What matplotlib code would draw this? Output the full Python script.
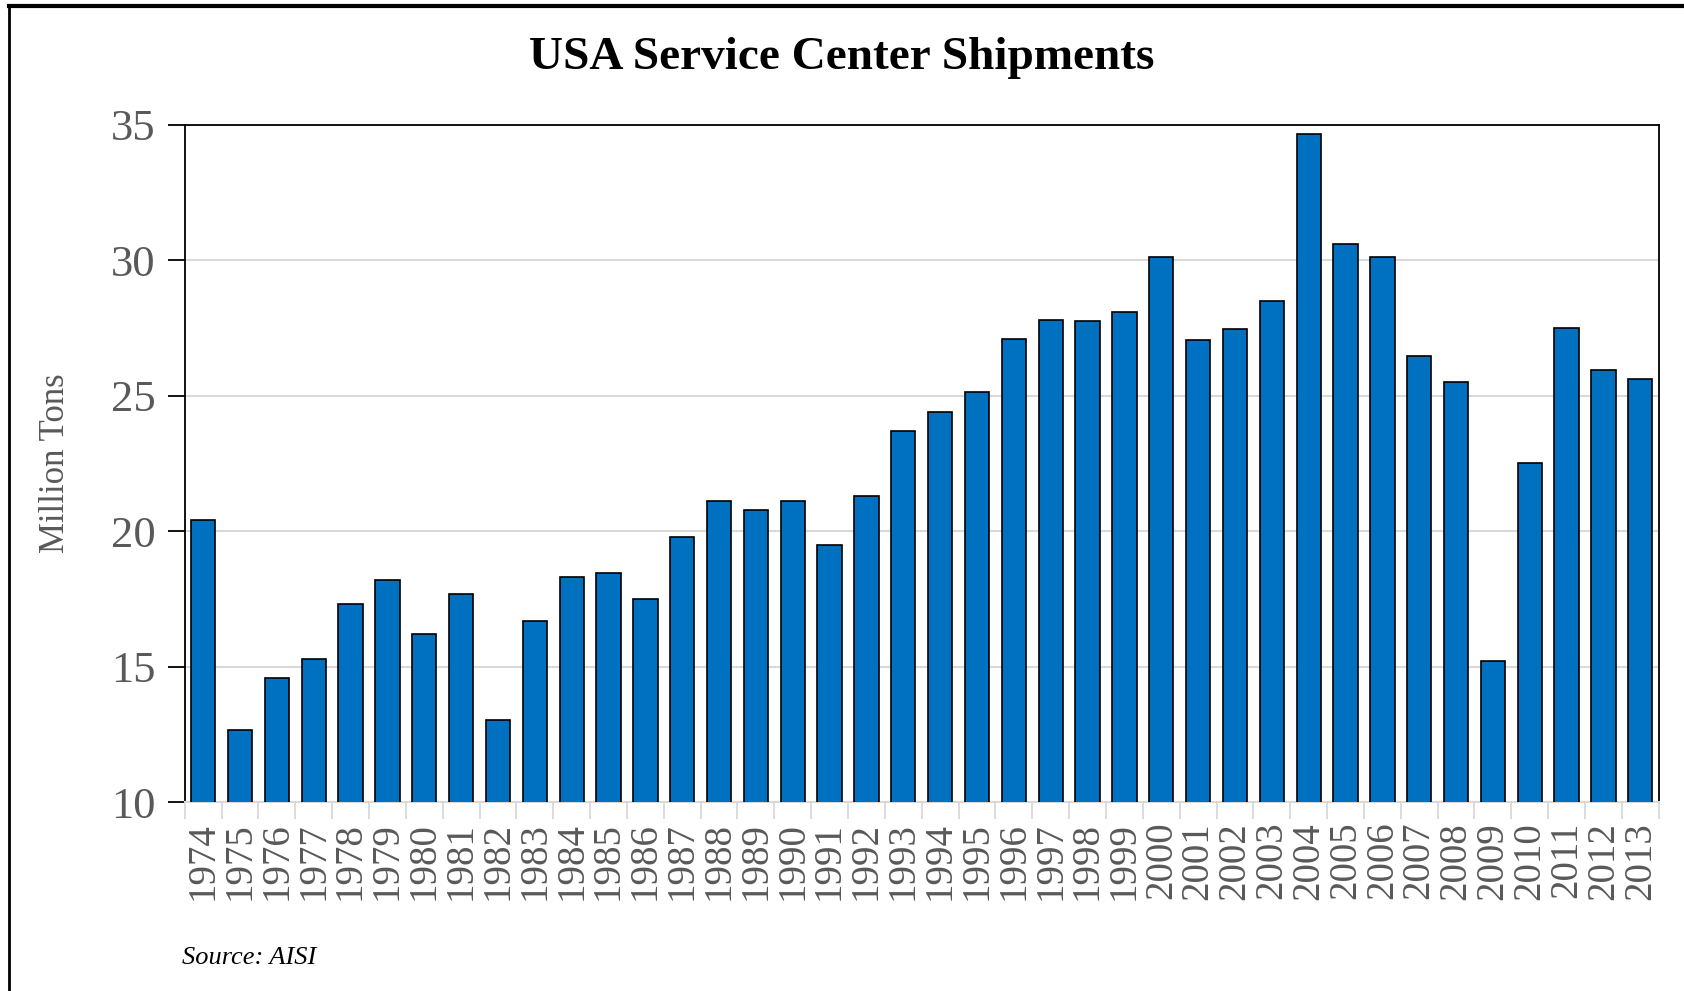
#!/usr/bin/env python3
"""
USA Service Center Shipments, 1974-2013 (source: AISI)
"""

import numpy as np
import matplotlib
matplotlib.use("Agg")
import matplotlib.pyplot as plt
from matplotlib.lines import Line2D

# Data
years = [str(y) for y in range(1974, 2014)]
shipments = [20.4, 12.65, 14.6, 15.3, 17.3, 18.2, 16.2, 17.7, 13.05, 16.7,
             18.3, 18.45, 17.5, 19.8, 21.1, 20.8, 21.1, 19.5, 21.3, 23.7,
             24.4, 25.15, 27.1, 27.8, 27.75, 28.1, 30.1, 27.05, 27.45, 28.5,
             34.65, 30.6, 30.1, 26.45, 25.5, 15.2, 22.5, 27.5, 25.95, 25.6]
y_ticks = [10, 15, 20, 25, 30, 35]

SERIF = ["Liberation Serif", "DejaVu Serif"]
BAR_BLUE = "#0070C0"
GREY_TXT = "#595959"
GRID_GREY = "#D9D9D9"

fig = plt.figure(figsize=(16.84, 9.91), dpi=100)
ax = fig.add_axes([0.1097, 0.1904, 0.8753, 0.6839])

x = np.arange(len(years))
ax.bar(x, shipments, width=0.66, color=BAR_BLUE, edgecolor="black",
       linewidth=1.2, zorder=3)

ax.set_xlim(-0.5, len(years) - 0.5)
ax.set_ylim(10, 35)

# y axis
ax.set_yticks(y_ticks)
ax.set_yticklabels([str(t) for t in y_ticks], family=SERIF, fontsize=32,
                   color=GREY_TXT)
ax.tick_params(axis="y", direction="out", length=12, width=1.3,
               color="black", pad=9)
ax.yaxis.grid(True, color=GRID_GREY, linewidth=1.5, zorder=0)
ax.set_ylabel("Million Tons", family=SERIF, fontsize=25, color=GREY_TXT,
              labelpad=28)

# x axis: labels on categories, tick marks on boundaries
ax.set_xticks(x)
ax.set_xticklabels(years, rotation=90, family=SERIF, fontsize=28,
                   color=GREY_TXT)
ax.tick_params(axis="x", which="major", length=0, pad=14)
ax.set_xticks(np.arange(-0.5, len(years)), minor=True)
ax.tick_params(axis="x", which="minor", direction="out", length=12,
               width=1.3, color=GRID_GREY)

for side in ["left", "top", "right"]:
    ax.spines[side].set_color("black")
    ax.spines[side].set_linewidth(1.3)
ax.spines["bottom"].set_color(GRID_GREY)
ax.spines["bottom"].set_linewidth(1.5)

fig.text(0.5, 0.941, "USA Service Center Shipments", ha="center",
         va="center", family=SERIF, fontsize=34, fontweight="bold")
fig.text(0.108, 0.033, "Source: AISI", ha="left", va="center",
         family=SERIF, fontsize=19, style="italic", color="black")

# outer frame: top and left edges only
fig.add_artist(Line2D([9 / 1684, 1], [1 - 6 / 991, 1 - 6 / 991],
                      transform=fig.transFigure, color="black", linewidth=3))
fig.add_artist(Line2D([9 / 1684, 9 / 1684], [0, 1 - 6 / 991],
                      transform=fig.transFigure, color="black", linewidth=2))

fig.savefig("out.png", dpi=100)
